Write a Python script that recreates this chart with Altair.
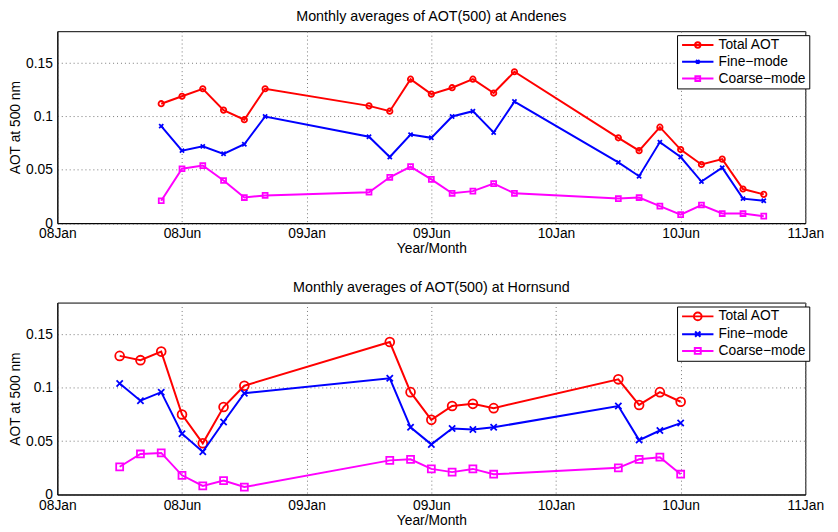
import altair as alt
import pandas as pd

FONT = "Liberation Sans"

series_names = ["Total AOT", "Fine-mode", "Coarse-mode"]
series_colors = ["#ff0000", "#0000ff", "#ff00ff"]

tick_months = [0, 6, 12, 18, 24, 30, 36]
tick_labels = ["08Jan", "08Jun", "09Jan", "09Jun", "10Jan", "10Jun", "11Jan"]
y_ticks = [0, 0.05, 0.1, 0.15]

# Andenes (months since Jan 2008, axis units)
and_months = [5, 6, 7, 8, 9, 10, 15, 16, 17, 18, 19, 20, 21, 22, 27, 28, 29, 30, 31, 32, 33, 34]
and_total = [0.112, 0.119, 0.126, 0.106, 0.097, 0.126, 0.110, 0.105, 0.135, 0.121, 0.127,
             0.135, 0.122, 0.142, 0.080, 0.068, 0.090, 0.069, 0.055, 0.060, 0.032, 0.027]
and_fine = [0.091, 0.068, 0.072, 0.065, 0.074, 0.100, 0.081, 0.062, 0.083, 0.080, 0.100,
            0.105, 0.085, 0.114, 0.057, 0.044, 0.076, 0.062, 0.039, 0.052, 0.023, 0.021]
and_coarse = [0.021, 0.051, 0.054, 0.040, 0.024, 0.026, 0.029, 0.043, 0.053, 0.041, 0.028,
              0.030, 0.037, 0.028, 0.023, 0.024, 0.016, 0.008, 0.017, 0.009, 0.009, 0.0065]

# Hornsund
hor_months = [3, 4, 5, 6, 7, 8, 9, 16, 17, 18, 19, 20, 21, 27, 28, 29, 30]
hor_total = [0.130, 0.126, 0.134, 0.075, 0.048, 0.082, 0.102, 0.143, 0.096, 0.070, 0.083,
             0.085, 0.081, 0.108, 0.084, 0.096, 0.087]
hor_fine = [0.104, 0.088, 0.096, 0.057, 0.040, 0.068, 0.095, 0.109, 0.063, 0.047, 0.062,
            0.061, 0.063, 0.083, 0.051, 0.060, 0.067]
hor_coarse = [0.026, 0.038, 0.039, 0.018, 0.008, 0.013, 0.007, 0.032, 0.033, 0.024, 0.021,
              0.024, 0.019, 0.025, 0.033, 0.035, 0.019]


def make_df(months, total, fine, coarse):
    rows = []
    for name, vals in zip(series_names, [total, fine, coarse]):
        for m, v in zip(months, vals):
            rows.append({"month": m, "aot": v, "series": name})
    return pd.DataFrame(rows)


label_js = "[" + ",".join("'%s'" % t for t in tick_labels) + "]"
FS = 14

X_AXIS = alt.Axis(values=tick_months, labelExpr=label_js + "[round(datum.value/6)]",
                  title="Year/Month", grid=True, gridDash=[1, 3], gridColor="#777",
                  gridWidth=1, ticks=False, labelPadding=4, titlePadding=1,
                  domainColor="black", labelFontSize=FS, titleFontSize=FS,
                  titleFontWeight="normal", labelColor="black", titleColor="black",
                  labelOverlap=False, labelFlush=False)
Y_AXIS = alt.Axis(values=y_ticks, format=".2~f", title="AOT at 500 nm", grid=True,
                  gridDash=[1, 3], gridColor="#777", gridWidth=1, ticks=False,
                  labelPadding=5, titlePadding=3, domainColor="black",
                  labelFontSize=FS, titleFontSize=FS, titleFontWeight="normal",
                  labelColor="black", titleColor="black")

LEGEND_LABEL = ("datum.label == 'Fine-mode' ? 'Fine\u2212mode' : "
                "datum.label == 'Coarse-mode' ? 'Coarse\u2212mode' : datum.label")


def make_legend():
    return alt.Legend(title=None, orient="none", legendX=628, legendY=4,
                      labelExpr=LEGEND_LABEL, labelFontSize=FS, labelColor="black",
                      symbolSize=36, symbolStrokeWidth=2,
                      symbolOffset=11, labelOffset=14,
                      padding=3, rowPadding=3,
                      strokeColor="black", fillColor="white",
                      cornerRadius=0, labelLimit=200)


def panel(df, title, big):
    base = alt.Chart(df)
    x = alt.X("month:Q", scale=alt.Scale(domain=[0, 36], nice=False, zero=False), axis=X_AXIS)
    y = alt.Y("aot:Q", scale=alt.Scale(domain=[0, 0.18], nice=False), axis=Y_AXIS)
    shapes = ["circle", "M-1,-1L1,1M-1,1L1,-1", "square"]
    if big:
        sizes = [80, 40, 50]
        leg_paths = ["M-5.3,0L5.3,0M-1.3,0A1.3,1.3 0 1,1 1.3,0A1.3,1.3 0 1,1 -1.3,0",
                     "M-5.3,0L5.3,0M-0.9,-0.9L0.9,0.9M-0.9,0.9L0.9,-0.9",
                     "M-5.3,0L5.3,0M-1,-1H1V1H-1Z"]
    else:
        sizes = [30, 18, 25]
        leg_paths = ["M-5.3,0L5.3,0M-0.9,0A0.9,0.9 0 1,1 0.9,0A0.9,0.9 0 1,1 -0.9,0",
                     "M-5.3,0L5.3,0M-0.6,-0.6L0.6,0.6M-0.6,0.6L0.6,-0.6",
                     "M-5.3,0L5.3,0M-0.8,-0.8H0.8V0.8H-0.8Z"]
    layers = []
    for name, col, shp, sz in zip(series_names, series_colors, shapes, sizes):
        sub = base.transform_filter(alt.datum.series == name)
        layers.append(sub.mark_line(color=col, strokeWidth=2).encode(x=x, y=y))
        layers.append(sub.mark_point(shape=shp, size=sz, color=col, filled=False,
                                     strokeWidth=1.8, opacity=1).encode(x=x, y=y))
    legend_layer = base.transform_filter("false").mark_point(
        filled=False, strokeWidth=2, opacity=1
    ).encode(
        x=x, y=y,
        color=alt.Color("series:N", scale=alt.Scale(domain=series_names, range=series_colors),
                        legend=make_legend()),
        shape=alt.Shape("series:N", scale=alt.Scale(domain=series_names, range=leg_paths),
                        legend=make_legend()),
    )
    layers.append(legend_layer)
    return alt.layer(*layers).properties(
        width=758, height=194.5,
        title=alt.TitleParams(title, fontSize=14.5, fontWeight="normal", color="black",
                              anchor="middle", offset=7),
    )


top = panel(make_df(and_months, and_total, and_fine, and_coarse),
            "Monthly averages of AOT(500) at Andenes", False)
bottom = panel(make_df(hor_months, hor_total, hor_fine, hor_coarse),
               "Monthly averages of AOT(500) at Hornsund", True)

chart = alt.vconcat(top, bottom, spacing=24).resolve_scale(
    color="independent", shape="independent"
).properties(
    padding={"left": 0, "top": -3, "right": 5, "bottom": 2}
).configure(font=FONT).configure_view(stroke="black", strokeWidth=1)

chart.save("out.html", embed_options={"renderer": "svg", "actions": False})
